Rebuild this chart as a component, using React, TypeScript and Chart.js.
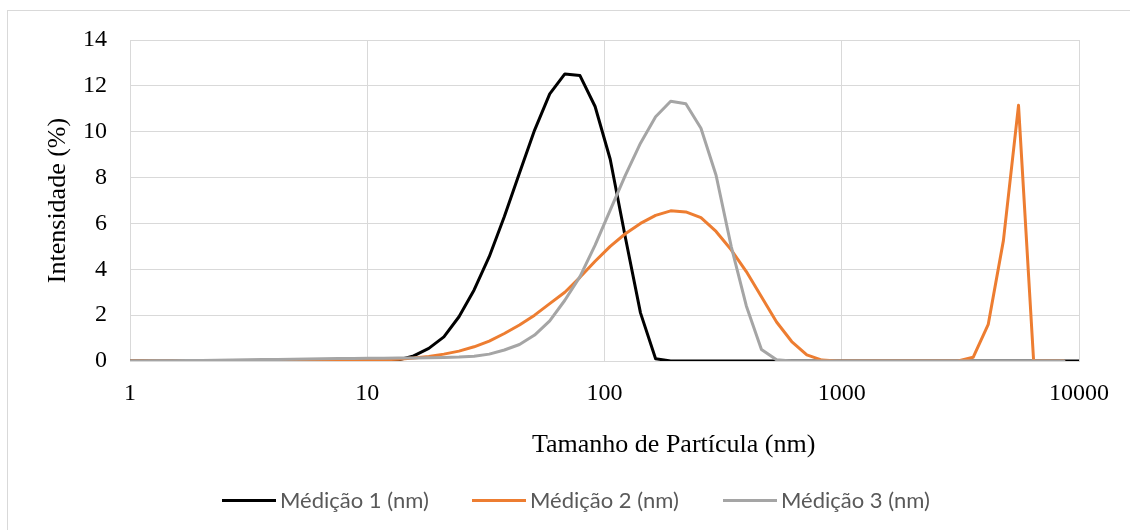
import React, { useEffect, useRef } from 'react';
import { Chart, registerables } from 'chart.js';

Chart.register(...registerables);

// Particle size bins (nm)
const sizes = [
  0.9649, 1.117, 1.294, 1.499, 1.736, 2.01, 2.328, 2.696, 3.122, 3.615,
  4.187, 4.849, 5.615, 6.503, 7.531, 8.721, 10.1, 11.7, 13.54, 15.69,
  18.17, 21.04, 24.36, 28.21, 32.67, 37.84, 43.82, 50.75, 58.77, 68.06,
  78.82, 91.28, 105.7, 122.4, 141.8, 164.2, 190.1, 220.2, 255.0, 295.3,
  342.0, 396.1, 458.7, 531.2, 615.1, 712.4, 825.0, 955.4, 1106, 1281,
  1484, 1718, 1990, 2305, 2669, 3091, 3580, 4145, 4801, 5560,
  6439, 7456, 8635, 10000,
];

const medicao1 = [
  0, 0, 0, 0, 0, 0, 0, 0, 0, 0,
  0, 0, 0, 0, 0, 0, 0, 0, 0.05, 0.22,
  0.55, 1.05, 1.93, 3.1, 4.55, 6.3, 8.2, 10.07, 11.65, 12.52,
  12.45, 11.1, 8.8, 5.4, 2.1, 0.1, 0, 0, 0, 0,
  0, 0, 0, 0, 0, 0, 0, 0, 0, 0,
  0, 0, 0, 0, 0, 0, 0, 0, 0, 0,
  0, 0, 0, 0,
];

const medicao2 = [
  0, 0, 0, 0, 0, 0, 0, 0, 0, 0,
  0.01, 0.01, 0.01, 0.01, 0.02, 0.02, 0.03, 0.05, 0.08, 0.13,
  0.2, 0.3, 0.43, 0.62, 0.87, 1.2, 1.57, 2.0, 2.5, 3.0,
  3.65, 4.35, 5.0, 5.55, 6.0, 6.35, 6.55, 6.5, 6.25, 5.65,
  4.85, 3.9, 2.8, 1.7, 0.85, 0.27, 0.04, 0, 0, 0,
  0, 0, 0, 0, 0, 0, 0.16, 1.6, 5.25, 11.15,
  0, 0, 0, null,
];

const medicao3 = [
  0, 0, 0.01, 0.01, 0.02, 0.02, 0.03, 0.04, 0.05, 0.06,
  0.07, 0.08, 0.09, 0.1, 0.11, 0.11, 0.12, 0.12, 0.13, 0.13,
  0.14, 0.15, 0.17, 0.21, 0.3, 0.48, 0.72, 1.13, 1.75, 2.65,
  3.68, 5.05, 6.58, 8.1, 9.5, 10.65, 11.33, 11.22, 10.15, 8.1,
  5.0, 2.4, 0.5, 0.05, 0, 0, 0, 0, 0, 0,
  0, 0, 0, 0, 0, 0, 0, 0, 0, 0,
  0, 0, 0, null,
];

const xTickValues = [1, 10, 100, 1000, 10000];
const yMin = 0;
const yMax = 14;
const yStep = 2;

const seriesNames = ['Médição 1 (nm)', 'Médição 2 (nm)', 'Médição 3 (nm)'];
const seriesColors = ['#000000', '#ED7D31', '#A5A5A5'];
const seriesValues = [medicao1, medicao2, medicao3];

const xTitle = 'Tamanho de Partícula (nm)';
const yTitle = 'Intensidade (%)';

const serif = "'Liberation Serif', 'Times New Roman', serif";
const legendX = [222, 472, 723];

export default function App() {
  const canvasRef = useRef<HTMLCanvasElement | null>(null);

  useEffect(() => {
    const canvas = canvasRef.current;
    if (!canvas) return;
    const datasets = seriesValues.map((vals, i) => ({
      label: seriesNames[i],
      data: sizes.map((s, j) => ({ x: s, y: vals[j] })),
      borderColor: seriesColors[i],
      backgroundColor: seriesColors[i],
      borderWidth: 3,
      pointRadius: 0,
      tension: 0,
      fill: false,
      spanGaps: false,
      borderJoinStyle: 'round' as const,
      borderCapStyle: 'round' as const,
      order: 2 - i,
    }));

    const chart = new Chart(canvas, {
      type: 'line',
      data: { datasets },
      options: {
        responsive: false,
        animation: false,
        devicePixelRatio: 1,
        layout: { padding: { left: 0, top: 40, right: 51, bottom: 109 } },
        plugins: { legend: { display: false }, tooltip: { enabled: false } },
        scales: {
          x: {
            type: 'logarithmic',
            min: 1,
            max: 10000,
            afterBuildTicks: (scale: any) => {
              scale.ticks = xTickValues.map((v) => ({ value: v }));
            },
            afterFit: (scale: any) => {
              scale.height = 60;
            },
            grid: { color: '#D9D9D9', lineWidth: 1, drawTicks: false },
            border: { color: '#D9D9D9', width: 1 },
            ticks: {
              color: '#000000',
              font: { family: serif, size: 24 },
              padding: 18,
              maxRotation: 0,
              autoSkip: false,
              callback: (v: any) => String(v),
            },
          },
          y: {
            type: 'linear',
            min: yMin,
            max: yMax,
            afterFit: (scale: any) => {
              scale.width = 130;
            },
            grid: { color: '#D9D9D9', lineWidth: 1, drawTicks: false },
            border: { color: '#D9D9D9', width: 1 },
            ticks: {
              stepSize: yStep,
              color: '#000000',
              font: { family: serif, size: 24 },
              padding: 23,
            },
            title: {
              display: true,
              text: yTitle,
              color: '#000000',
              font: { family: serif, size: 26 },
              padding: { top: 43, bottom: 0 },
            },
          },
        },
      },
    });
    return () => chart.destroy();
  }, []);

  return (
    <div
      style={{
        position: 'absolute',
        left: 0,
        top: 0,
        width: 1130,
        height: 530,
        overflow: 'hidden',
        background: '#ffffff',
      }}
    >
      <div
        style={{
          position: 'absolute',
          left: 7,
          top: 10,
          width: 1200,
          height: 600,
          borderLeft: '1px solid #D9D9D9',
          borderTop: '1px solid #D9D9D9',
        }}
      />
      <canvas
        ref={canvasRef}
        width={1130}
        height={530}
        style={{ position: 'absolute', left: 0, top: 0, width: 1130, height: 530 }}
      />
      <div
        style={{
          position: 'absolute',
          left: 532,
          top: 428,
          fontFamily: serif,
          fontSize: 26,
          lineHeight: '31px',
          color: '#000000',
          whiteSpace: 'nowrap',
        }}
      >
        {xTitle}
      </div>
      {seriesNames.map((name, i) => (
        <div
          key={name}
          style={{
            position: 'absolute',
            left: legendX[i],
            top: 485,
            height: 30,
            display: 'flex',
            alignItems: 'center',
            whiteSpace: 'nowrap',
          }}
        >
          <div style={{ width: 54, height: 3, background: seriesColors[i], marginRight: 4 }} />
          <span style={{ fontFamily: "Lato, 'Noto Sans', sans-serif", fontSize: 22, color: '#595959', lineHeight: '30px' }}>
            {name}
          </span>
        </div>
      ))}
    </div>
  );
}
